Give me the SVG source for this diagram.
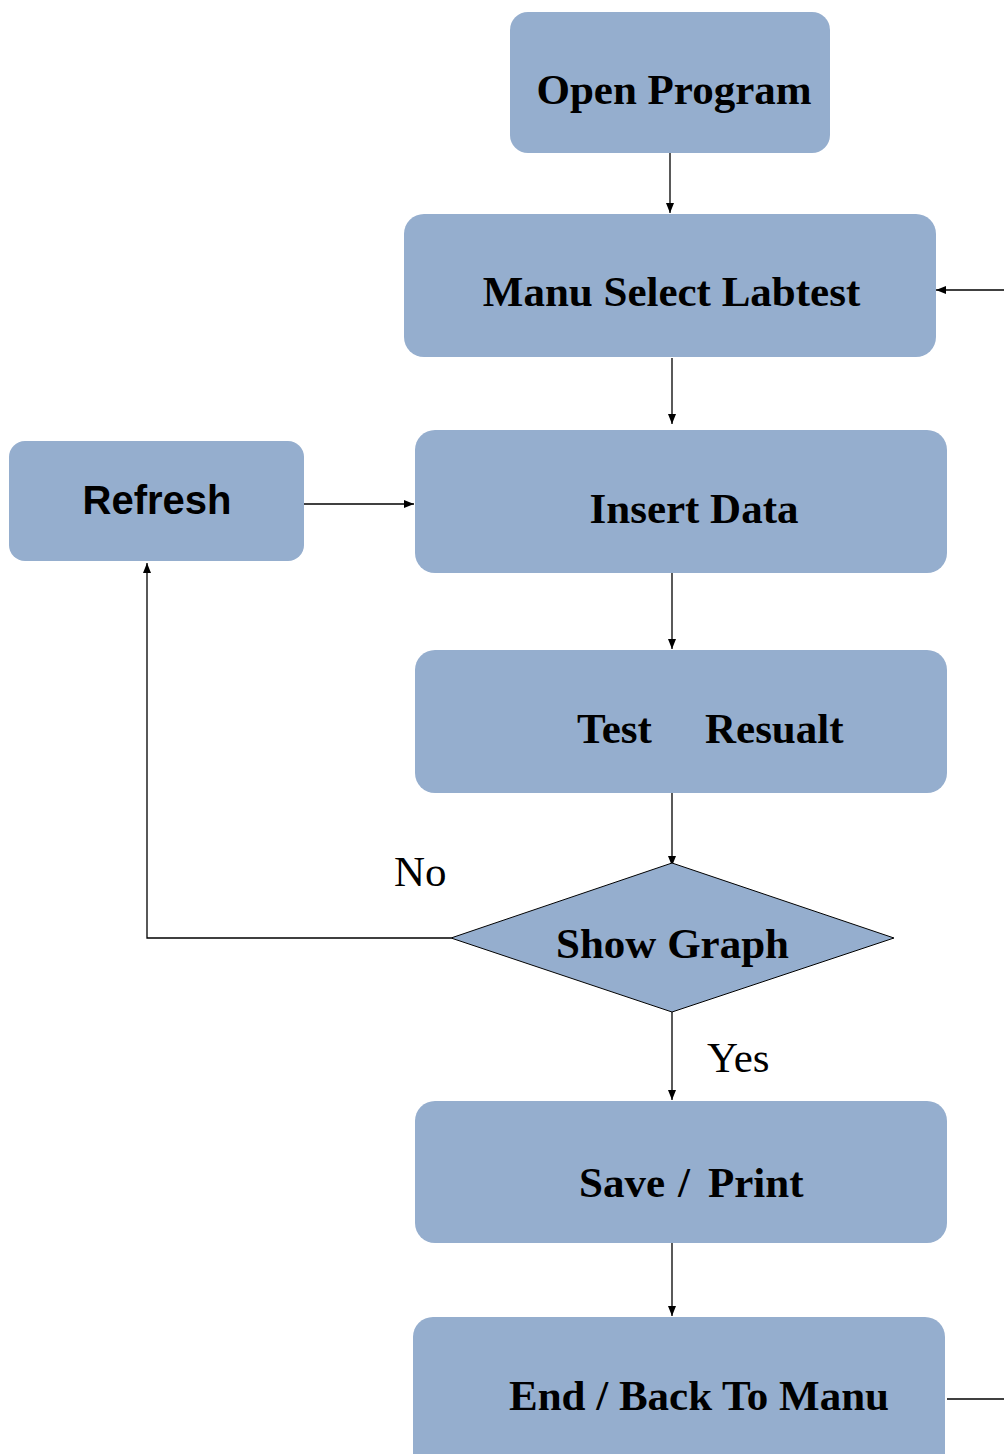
<svg xmlns="http://www.w3.org/2000/svg" width="1004" height="1454" viewBox="0 0 1004 1454">
<style>
.box{fill:#95AECE;}
.t{font-family:"Liberation Serif","Times New Roman",serif;font-weight:bold;font-size:43px;fill:#000;}
.s{font-family:"Liberation Sans",Arial,sans-serif;font-weight:bold;font-size:40px;fill:#000;}
.l{font-family:"Liberation Serif","Times New Roman",serif;font-size:43px;fill:#000;}
.c{fill:none;stroke:#000;stroke-width:1.3;}
</style>
<defs>
<marker id="ah" viewBox="0 0 10 8" refX="10" refY="4" markerWidth="10" markerHeight="8" markerUnits="userSpaceOnUse" orient="auto">
<path d="M0,0 L10,4 L0,8 Z" fill="#000"/>
</marker>
</defs>
<rect width="1004" height="1454" fill="#fff"/>
<g id="connectors">
<line class="c" x1="670" y1="153" x2="670" y2="213" marker-end="url(#ah)"/>
<line class="c" x1="672" y1="358" x2="672" y2="424" marker-end="url(#ah)"/>
<line class="c" x1="672" y1="573" x2="672" y2="649" marker-end="url(#ah)"/>
<line class="c" x1="672" y1="793" x2="672" y2="866" marker-end="url(#ah)"/>
<line class="c" x1="672" y1="1012" x2="672" y2="1100" marker-end="url(#ah)"/>
<line class="c" x1="672" y1="1243" x2="672" y2="1316" marker-end="url(#ah)"/>
<line class="c" x1="304" y1="504" x2="414" y2="504" marker-end="url(#ah)"/>
<polyline class="c" points="451,938 147,938 147,563" marker-end="url(#ah)"/>
<line class="c" x1="1004" y1="290" x2="936" y2="290" marker-end="url(#ah)"/>
<line class="c" x1="947" y1="1399" x2="1004" y2="1399"/>
<text class="l" x="394" y="886">No</text>
<text class="l" x="707" y="1072">Yes</text>
</g>
<g id="open-program">
<rect class="box" x="510" y="12" width="320" height="141" rx="18"/>
<text class="t" x="674" y="104" text-anchor="middle">Open Program</text>
</g>
<g id="manu-select">
<rect class="box" x="404" y="214" width="532" height="143" rx="20"/>
<text class="t" x="671.5" y="306" text-anchor="middle">Manu Select Labtest</text>
</g>
<g id="refresh">
<rect class="box" x="9" y="441" width="295" height="120" rx="16"/>
<text class="s" x="157" y="514" text-anchor="middle">Refresh</text>
</g>
<g id="insert-data">
<rect class="box" x="415" y="430" width="532" height="143" rx="20"/>
<text class="t" x="694" y="523" text-anchor="middle">Insert Data</text>
</g>
<g id="test-result">
<rect class="box" x="415" y="650" width="532" height="143" rx="20"/>
<text class="t" y="743"><tspan x="577">Test </tspan><tspan x="705">Resualt</tspan></text>
</g>
<g id="show-graph">
<polygon points="672,863 894,938 672,1012 451,938" fill="#95AECE" stroke="#000" stroke-width="1"/>
<text class="t" x="672.5" y="958" text-anchor="middle">Show Graph</text>
</g>
<g id="save-print">
<rect class="box" x="415" y="1101" width="532" height="142" rx="20"/>
<text class="t" y="1197"><tspan x="579">Save </tspan><tspan x="678">/ </tspan><tspan x="708">Print</tspan></text>
</g>
<g id="end-back">
<rect class="box" x="413" y="1317" width="532" height="160" rx="20"/>
<text class="t" x="699" y="1410" text-anchor="middle">End / Back To Manu</text>
</g>
</svg>
